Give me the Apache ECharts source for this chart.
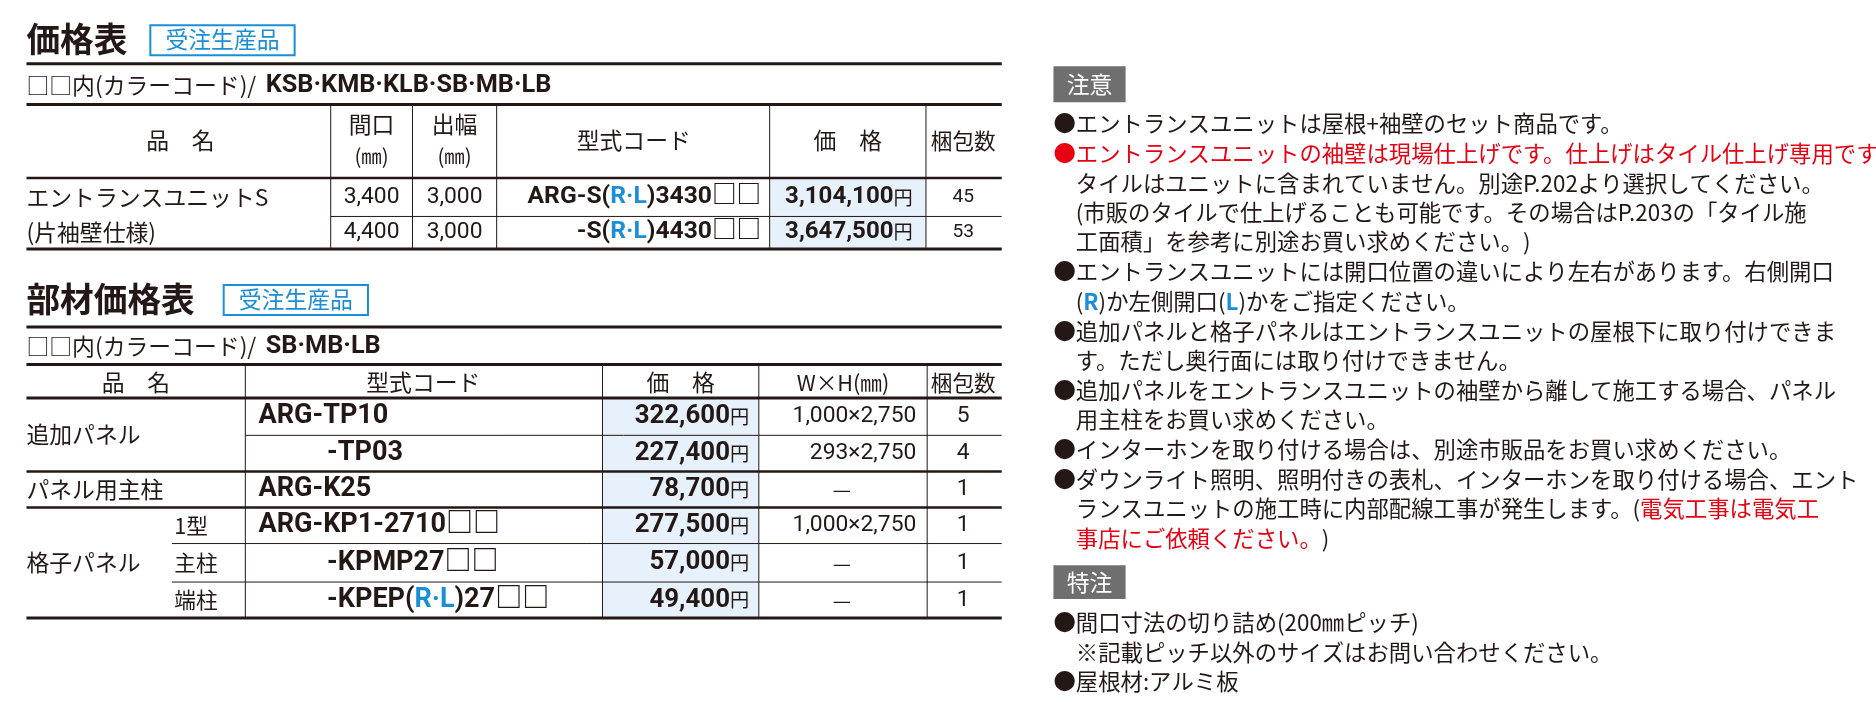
<!DOCTYPE html>
<html lang="ja">
<head>
<meta charset="UTF-8" />
<title>価格表</title>
<script src="https://cdn.jsdelivr.net/npm/echarts@6/dist/echarts.min.js"></script>
<style>html,body{margin:0;background:#fff}</style>
</head>
<body>
<div id="main" style="width:1876px;height:712px"></div>
<script>
// 価格表
var names1 = ['エントランスユニットS', '(片袖壁仕様)'];
var widths1 = [3400, 4400];
var depths1 = [3000, 3000];
var codes1 = ['ARG-S(R·L)3430□□', '-S(R·L)4430□□'];
var prices1 = [3104100, 3647500];
var packs1 = [45, 53];

// 部材価格表
var groups2 = ['追加パネル', 'パネル用主柱', '格子パネル'];
var subs2 = ['', '', '', '1型', '主柱', '端柱'];
var codes2 = ['ARG-TP10', '-TP03', 'ARG-K25', 'ARG-KP1-2710□□', '-KPMP27□□', '-KPEP(R·L)27□□'];
var prices2 = [322600, 227400, 78700, 277500, 57000, 49400];
var sizes2 = ['1,000×2,750', '293×2,750', '—', '1,000×2,750', '—', '—'];
var packs2 = [5, 4, 1, 1, 1, 1];

// 注意・特注
var notes = [
  [['k', '●エントランスユニットは屋根+袖壁のセット商品です。']],
  [['r', '●エントランスユニットの袖壁は現場仕上げです。仕上げはタイル仕上げ専用です。']],
  [['k', '　タイルはユニットに含まれていません。別途P.202より選択してください。']],
  [['k', '　(市販のタイルで仕上げることも可能です。その場合はP.203の「タイル施']],
  [['k', '　工面積」を参考に別途お買い求めください。)']],
  [['k', '●エントランスユニットには開口位置の違いにより左右があります。右側開口']],
  [['k', '　('], ['b', 'R'], ['k', ')か左側開口('], ['b', 'L'], ['k', ')かをご指定ください。']],
  [['k', '●追加パネルと格子パネルはエントランスユニットの屋根下に取り付けできま']],
  [['k', '　す。ただし奥行面には取り付けできません。']],
  [['k', '●追加パネルをエントランスユニットの袖壁から離して施工する場合、パネル']],
  [['k', '　用主柱をお買い求めください。']],
  [['k', '●インターホンを取り付ける場合は、別途市販品をお買い求めください。']],
  [['k', '●ダウンライト照明、照明付きの表札、インターホンを取り付ける場合、エント']],
  [['k', '　ランスユニットの施工時に内部配線工事が発生します。('], ['r', '電気工事は電気工']],
  [['r', '　事店にご依頼ください。'], ['k', ')']]
];
var noteY = [103, 128, 153, 177, 201, 226, 251, 276, 300, 325, 349, 374, 399, 423, 448];
var special = [
  [['k', '●間口寸法の切り詰め(200㎜ピッチ)']],
  [['k', '　※記載ピッチ以外のサイズはお問い合わせください。']],
  [['k', '●屋根材:アルミ板']]
];
var specialY = [518, 543, 567];

var S = 1876 / 1560;
function p(v) { return v * S; }
var JP = '"Noto Sans CJK JP", sans-serif';
var NUM = '"Liberation Sans Narrow", "Roboto", "Noto Sans CJK JP", sans-serif';
var BLUE = '#1a8fd8', RED = '#e60012', INK = '#231815';
var g = [];

function fmt(n) { return n.toLocaleString('en-US'); }
function line(x1, y1, x2, y2, w) {
  g.push({ type: 'line', shape: { x1: p(x1), y1: p(y1), x2: p(x2), y2: p(y2) }, style: { stroke: INK, lineWidth: w } });
}
function rect(x, y, w, h, fill, stroke) {
  g.push({ type: 'rect', shape: { x: p(x), y: p(y), width: p(w), height: p(h) },
    style: { fill: fill || 'none', stroke: stroke || null, lineWidth: 2 } });
}
function txt(x, y, s, size, align, opt) {
  opt = opt || {};
  g.push({ type: 'text', x: p(x), y: p(y), style: Object.assign({
    text: s, fontSize: p(size), fill: INK, fontFamily: JP, align: align || 'left', verticalAlign: 'middle'
  }, opt) });
}
function code(x, y, s, size, align) {
  var parts = s.split('R·L');
  var t = parts.length > 1 ? '{b|' + parts[0] + '}{c|R·L}{b|' + parts[1] + '}' : '{b|' + s + '}';
  g.push({ type: 'text', x: p(x), y: p(y), style: {
    text: t, align: align, verticalAlign: 'middle',
    rich: { b: { fontSize: p(size), fontWeight: 'bold', fontFamily: NUM, fill: INK },
            c: { fontSize: p(size), fontWeight: 'bold', fontFamily: NUM, fill: BLUE } } } });
}
function price(x, y, n, size) {
  g.push({ type: 'text', x: p(x), y: p(y), style: {
    text: '{n|' + fmt(n) + '}{y|円}', align: 'right', verticalAlign: 'middle',
    rich: { n: { fontSize: p(size), fontWeight: 'bold', fontFamily: NUM, fill: INK },
            y: { fontSize: p(16), fontFamily: JP, fill: INK } } } });
}
function heading(x, y, s, bx, bw) {
  txt(x, y, s, 28, 'left', { fontWeight: 'bold' });
  rect(bx, y - 12, bw, 25, '#fff', BLUE);
  txt(bx + bw / 2, y, '受注生産品', 19, 'center', { fill: BLUE });
}
function richLine(x, y, segs, size) {
  var t = segs.map(function (s) { return '{' + s[0] + '|' + s[1] + '}'; }).join('');
  var base = { fontSize: p(size || 18.6), fontFamily: JP };
  g.push({ type: 'text', x: p(x), y: p(y), style: { text: t, verticalAlign: 'middle',
    rich: { k: Object.assign({ fill: INK }, base), r: Object.assign({ fill: RED }, base),
            b: Object.assign({ fill: BLUE, fontWeight: 'bold' }, base) } } });
}

// ---- 価格表 ----
var L = 22, R = 833;
heading(L, 33, '価格表', 125, 120);
line(L, 53, R, 53, 3);
richLine(L, 71, [['k', '□□内(カラーコード)/']], 19);
txt(L + 199, 71, 'KSB·KMB·KLB·SB·MB·LB', 21, 'left', { fontWeight: 'bold', fontFamily: NUM });
line(L, 87, R, 87, 3);
rect(640, 148, 130, 59, '#e6f1fb');
[275, 343, 413, 640, 770].forEach(function (x) { line(x, 87, x, 207, 1); });
txt(150, 117, '品　名', 19, 'center');
txt(309, 103, '間口', 19, 'center'); txt(309, 130, '(㎜)', 17, 'center');
txt(378, 103, '出幅', 19, 'center'); txt(378, 130, '(㎜)', 17, 'center');
txt(527, 117, '型式コード', 19, 'center');
txt(705, 117, '価　格', 19, 'center');
txt(801, 117, '梱包数', 18, 'center');
line(L, 148, R, 148, 2.5);
line(275, 180, R, 180, 1);
var rowY1 = [164, 193];
names1.forEach(function (n, i) { txt(L, rowY1[i], n, 19); });
widths1.forEach(function (v, i) {
  var y = rowY1[i];
  txt(309, y, fmt(v), 19, 'center', { fontFamily: NUM });
  txt(378, y, fmt(depths1[i]), 19, 'center', { fontFamily: NUM });
  code(633, y, codes1[i], 20.5, 'right');
  price(759, y, prices1[i], 20);
  txt(801, y, String(packs1[i]), 16, 'center', { fontFamily: NUM });
});
line(L, 207, R, 207, 3);

// ---- 部材価格表 ----
heading(L, 249, '部材価格表', 186, 120);
line(L, 272, R, 272, 3);
richLine(L, 288, [['k', '□□内(カラーコード)/']], 19);
txt(L + 199, 288, 'SB·MB·LB', 21, 'left', { fontWeight: 'bold', fontFamily: NUM });
line(L, 303, R, 303, 3);
var rb = [331, 362, 392, 422, 452, 484, 514];
rect(501, rb[0], 130, rb[6] - rb[0], '#e6f1fb');
[204, 501, 631, 771].forEach(function (x) { line(x, 303, x, 514, 1); });
txt(113, 318, '品　名', 19, 'center');
txt(352, 318, '型式コード', 19, 'center');
txt(566, 318, '価　格', 19, 'center');
txt(701, 318, 'W×H(㎜)', 18, 'center');
txt(801, 318, '梱包数', 18, 'center');
line(L, rb[0], R, rb[0], 3);
line(204, rb[1], R, rb[1], 1);
line(L, rb[2], R, rb[2], 2.5);
line(L, rb[3], R, rb[3], 2.5);
line(143, rb[4], R, rb[4], 1);
line(143, rb[5], R, rb[5], 1);
line(L, rb[6], R, rb[6], 3);
txt(L, (rb[0] + rb[2]) / 2, groups2[0], 19);
txt(L, (rb[2] + rb[3]) / 2, groups2[1], 19);
txt(L, (rb[3] + rb[6]) / 2, groups2[2], 19);
codes2.forEach(function (c, i) {
  var y = (rb[i] + rb[i + 1]) / 2;
  if (subs2[i]) txt(145, y, subs2[i], 18);
  code(c.charAt(0) === '-' ? 272 : 215, y, c, 22.5, 'left');
  price(623, y, prices2[i], 21.5);
  if (sizes2[i] === '—') txt(700, y, '—', 17, 'center');
  else txt(762, y, sizes2[i], 19, 'right', { fontFamily: NUM });
  txt(801, y, String(packs2[i]), 19, 'center', { fontFamily: NUM });
});

// ---- 注意 / 特注 ----
rect(876, 55, 60, 30, '#6f6f6f');
txt(906, 70, '注意', 19, 'center', { fill: '#fff' });
notes.forEach(function (segs, i) { richLine(876, noteY[i], segs); });
rect(876, 470, 60, 28, '#6f6f6f');
txt(906, 484, '特注', 19, 'center', { fill: '#fff' });
special.forEach(function (segs, i) { richLine(876, specialY[i], segs); });

var chart = echarts.init(document.getElementById('main'));
chart.setOption({ backgroundColor: '#fff', animation: false, graphic: { elements: g } });
</script>
</body>
</html>
